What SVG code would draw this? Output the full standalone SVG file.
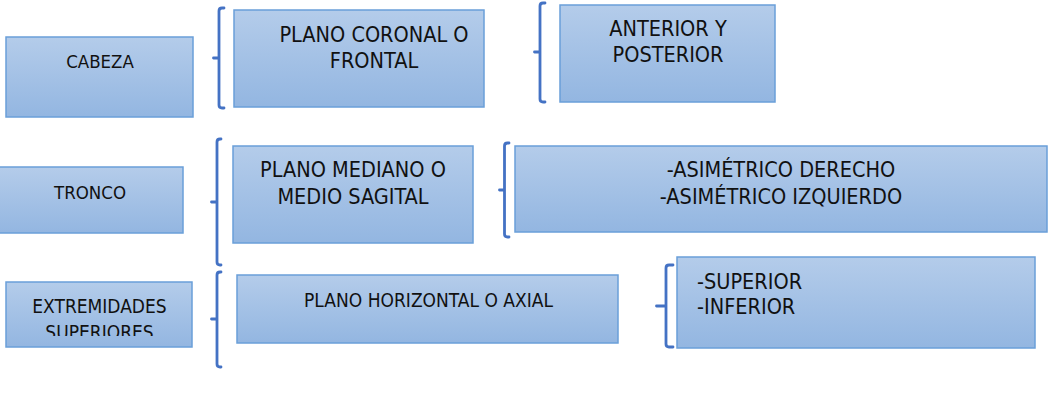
<svg xmlns="http://www.w3.org/2000/svg" width="1051" height="398" viewBox="0 0 1051 398">
<defs>
<linearGradient id="g" x1="0" y1="0" x2="0" y2="1">
<stop offset="0" stop-color="#b4ccea"/>
<stop offset="1" stop-color="#93b6e1"/>
</linearGradient>
<clipPath id="clipExt"><rect x="0" y="280" width="200" height="56"/></clipPath>
<style>
.box{fill:url(#g);stroke:#6a9fd9;stroke-width:1.5}
.t{font-family:"DejaVu Sans Condensed","DejaVu Sans",sans-serif;fill:#111;text-anchor:middle}
.s{font-size:18.5px}
.m{font-size:21.5px}
.l{text-anchor:start}
.br{fill:none;stroke:#4472c4;stroke-width:2.8;stroke-linecap:round;stroke-linejoin:round}
</style>
</defs>
<rect width="1051" height="398" fill="#fff"/>
<g id="cabeza">
<rect class="box" x="6" y="37" width="187" height="80"/>
<text class="t s" x="100" y="68">CABEZA</text>
</g>
<g id="tronco">
<rect class="box" x="-2" y="167" width="185" height="66"/>
<text class="t s" x="90" y="199">TRONCO</text>
</g>
<g id="extremidades">
<rect class="box" x="6" y="282" width="186" height="65"/>
<g clip-path="url(#clipExt)">
<text class="t" style="font-size:19px" x="99.5" y="313">EXTREMIDADES</text>
<text class="t" style="font-size:19px" x="99.5" y="339">SUPERIORES</text>
</g>
</g>
<g id="plano-coronal">
<rect class="box" x="234" y="10" width="250" height="97"/>
<text class="t m" x="374" y="42">PLANO CORONAL O</text>
<text class="t m" x="374" y="68">FRONTAL</text>
</g>
<g id="anterior-posterior">
<rect class="box" x="560" y="5" width="215" height="97"/>
<text class="t m" x="668" y="36">ANTERIOR Y</text>
<text class="t m" x="668" y="62">POSTERIOR</text>
</g>
<g id="plano-mediano">
<rect class="box" x="233" y="146" width="240" height="97"/>
<text class="t m" x="353" y="177">PLANO MEDIANO O</text>
<text class="t m" x="353" y="204">MEDIO SAGITAL</text>
</g>
<g id="asimetrico">
<rect class="box" x="515" y="146" width="532" height="86"/>
<text class="t m" x="781" y="177">-ASIMÉTRICO DERECHO</text>
<text class="t m" x="781" y="204">-ASIMÉTRICO IZQUIERDO</text>
</g>
<g id="plano-horizontal">
<rect class="box" x="237" y="275" width="381" height="68"/>
<text class="t" style="font-size:19px" x="428.5" y="307">PLANO HORIZONTAL O AXIAL</text>
</g>
<g id="superior-inferior">
<rect class="box" x="677" y="257" width="358" height="91"/>
<text class="t m l" x="697" y="289">-SUPERIOR</text>
<text class="t m l" x="697" y="314">-INFERIOR</text>
</g>
<g id="connectors">
<path class="br" d="M224,8 H222 Q219,8 219,11 V105 Q219,108 222,108 H224 M213.5,58 H219"/>
<path class="br" d="M545,3 H543 Q540,3 540,6 V99 Q540,102 543,102 H545 M534.5,52 H540"/>
<path class="br" d="M221,139 H220 Q217,139 217,142 V262 Q217,265 220,265 H221 M211.5,202 H217"/>
<path class="br" d="M509,143 H507.5 Q504.5,143 504.5,146 V234 Q504.5,237 507.5,237 H509 M499.5,190 H504.5"/>
<path class="br" d="M221,272 H220 Q217,272 217,275 V364 Q217,367 220,367 H221 M211.5,319 H217"/>
<path class="br" d="M673,265 H669 Q666,265 666,268 V344 Q666,347 669,347 H673 M656.5,306 H666"/>
</g>
</svg>
